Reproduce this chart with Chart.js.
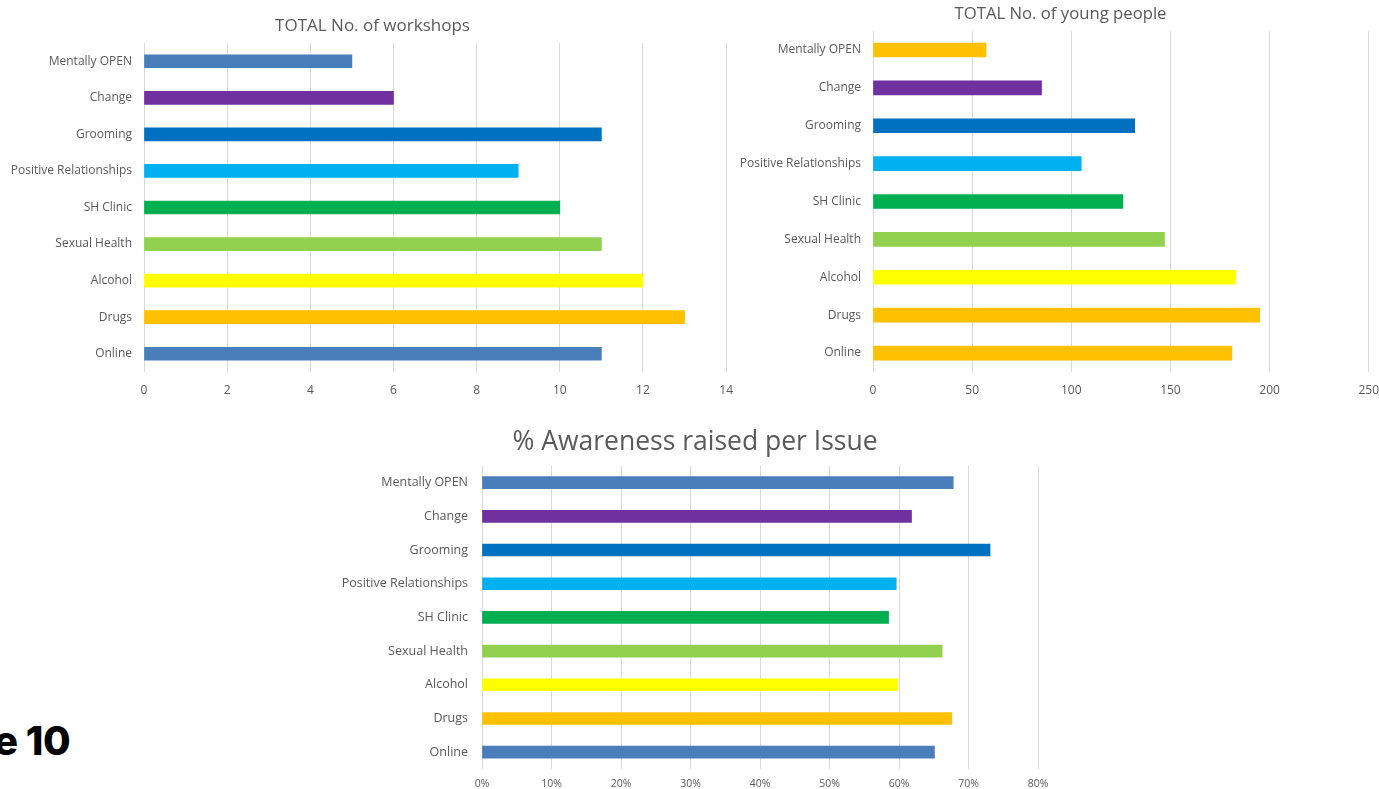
<!DOCTYPE html>
<html>
<head>
<meta charset="utf-8">
<script src="https://cdn.jsdelivr.net/npm/chart.js@4.4.1/dist/chart.umd.min.js"></script>
<style>
  html, body { margin: 0; padding: 0; background: #ffffff; overflow: hidden; }
  body { width: 1379px; height: 789px; position: relative; }
  canvas { position: absolute; }
  #c1 { left: 0px; top: 0px; }
  #c2 { left: 730px; top: 0px; }
  #c3 { left: 330px; top: 410px; }
  #fig { position: absolute; left: -6px; top: 716px; font-family: Inter, "Open Sans", sans-serif; font-weight: 800; font-size: 40px; color: #000; letter-spacing: -0.5px; line-height: 50px; white-space: nowrap; }
</style>
</head>
<body>
<canvas id="c1" width="744" height="402"></canvas>
<canvas id="c2" width="660" height="402"></canvas>
<canvas id="c3" width="730" height="379"></canvas>
<div id="fig">e 10</div>
<script>
const categories = ["Mentally OPEN", "Change", "Grooming", "Positive Relationships", "SH Clinic", "Sexual Health", "Alcohol", "Drugs", "Online"];
const workshops = [5, 6, 11, 9, 10, 11, 12, 13, 11];
const youngPeople = [57, 85, 132, 105, 126, 147, 183, 195, 181];
const awarenessPct = [67.8, 61.8, 73.1, 59.6, 58.5, 66.2, 59.8, 67.6, 65.1];
const workshopTicks = [0, 2, 4, 6, 8, 10, 12, 14];
const youngTicks = [0, 50, 100, 150, 200, 250];
const pctTicks = [0, 10, 20, 30, 40, 50, 60, 70, 80];

const colorsA = ["#4a7ebb", "#7030a0", "#0070c0", "#00b0f0", "#00b050", "#92d050", "#ffff00", "#ffc000", "#4a7ebb"];
const colorsB = ["#ffc000", "#7030a0", "#0070c0", "#00b0f0", "#00b050", "#92d050", "#ffff00", "#ffc000", "#ffc000"];

const FONT = "'Open Sans', sans-serif";
const TXT = "#595959";
const GRID = "#d9d9d9";

// shifts the title block horizontally after layout
const titleShift = {
  id: 'titleShift',
  afterLayout(chart, args, pluginOpts) {
    const tb = chart.titleBlock;
    if (tb && pluginOpts && pluginOpts.dx) { tb.left += pluginOpts.dx; tb.right += pluginOpts.dx; }
  }
};

function makeChart(id, opts) {
  return new Chart(document.getElementById(id), {
    type: 'bar',
    plugins: [titleShift],
    data: {
      labels: categories,
      datasets: [{
        data: opts.data,
        backgroundColor: opts.colors,
        borderWidth: 0,
        barThickness: opts.barThickness
      }]
    },
    options: {
      indexAxis: 'y',
      responsive: false,
      animation: false,
      layout: { padding: { left: 0, right: opts.padRight, top: 0, bottom: 0 } },
      plugins: {
        legend: { display: false },
        tooltip: { enabled: false },
        titleShift: { dx: opts.titleDx },
        title: {
          display: true,
          text: opts.title,
          color: TXT,
          font: { family: FONT, size: opts.titleSize, weight: 'normal' },
          padding: opts.titlePad
        }
      },
      scales: {
        x: {
          type: 'linear',
          min: 0,
          max: opts.ticks[opts.ticks.length - 1],
          afterBuildTicks: (scale) => { scale.ticks = opts.ticks.map(v => ({ value: v })); },
          grid: { color: GRID, lineWidth: 1, drawTicks: false },
          border: { display: false },
          ticks: {
            color: TXT,
            padding: opts.xTickPad,
            font: { family: FONT, size: opts.xTickSize },
            callback: opts.fmt
          },
          afterFit: (scale) => { scale.height = opts.xHeight; }
        },
        y: {
          grid: { display: false, drawTicks: false },
          border: { display: false },
          ticks: {
            color: TXT,
            padding: opts.yTickPad,
            font: { family: FONT, size: opts.yTickSize }
          },
          afterFit: (scale) => { scale.width = opts.yWidth; scale.paddingTop = 0; scale.paddingBottom = 0; }
        }
      }
    }
  });
}

makeChart('c1', {
  data: workshops, colors: colorsA, barThickness: 13,
  title: "TOTAL No. of workshops", titleSize: 17, titlePad: { top: 16, bottom: 6.6 }, titleDx: 9,
  ticks: workshopTicks, fmt: v => v, xTickPad: 11, xTickSize: 12, xHeight: 30,
  yWidth: 144, yTickSize: 12, yTickPad: 12, padRight: 17
});

makeChart('c2', {
  data: youngPeople, colors: colorsB, barThickness: 14,
  title: "TOTAL No. of young people", titleSize: 16.7, titlePad: { top: 4, bottom: 7 }, titleDx: 11,
  ticks: youngTicks, fmt: v => v, xTickPad: 11, xTickSize: 12, xHeight: 30,
  yWidth: 143, yTickSize: 12, yTickPad: 12, padRight: 21
});

makeChart('c3', {
  data: awarenessPct, colors: colorsA, barThickness: 12,
  title: "% Awareness raised per Issue", titleSize: 26.5, titlePad: { top: 16.5, bottom: 7.5 }, titleDx: 11,
  ticks: pctTicks, fmt: v => v + '%', xTickPad: 9, xTickSize: 10.5, xHeight: 20,
  yWidth: 152, yTickSize: 12.5, yTickPad: 14, padRight: 22
});
</script>
</body>
</html>
